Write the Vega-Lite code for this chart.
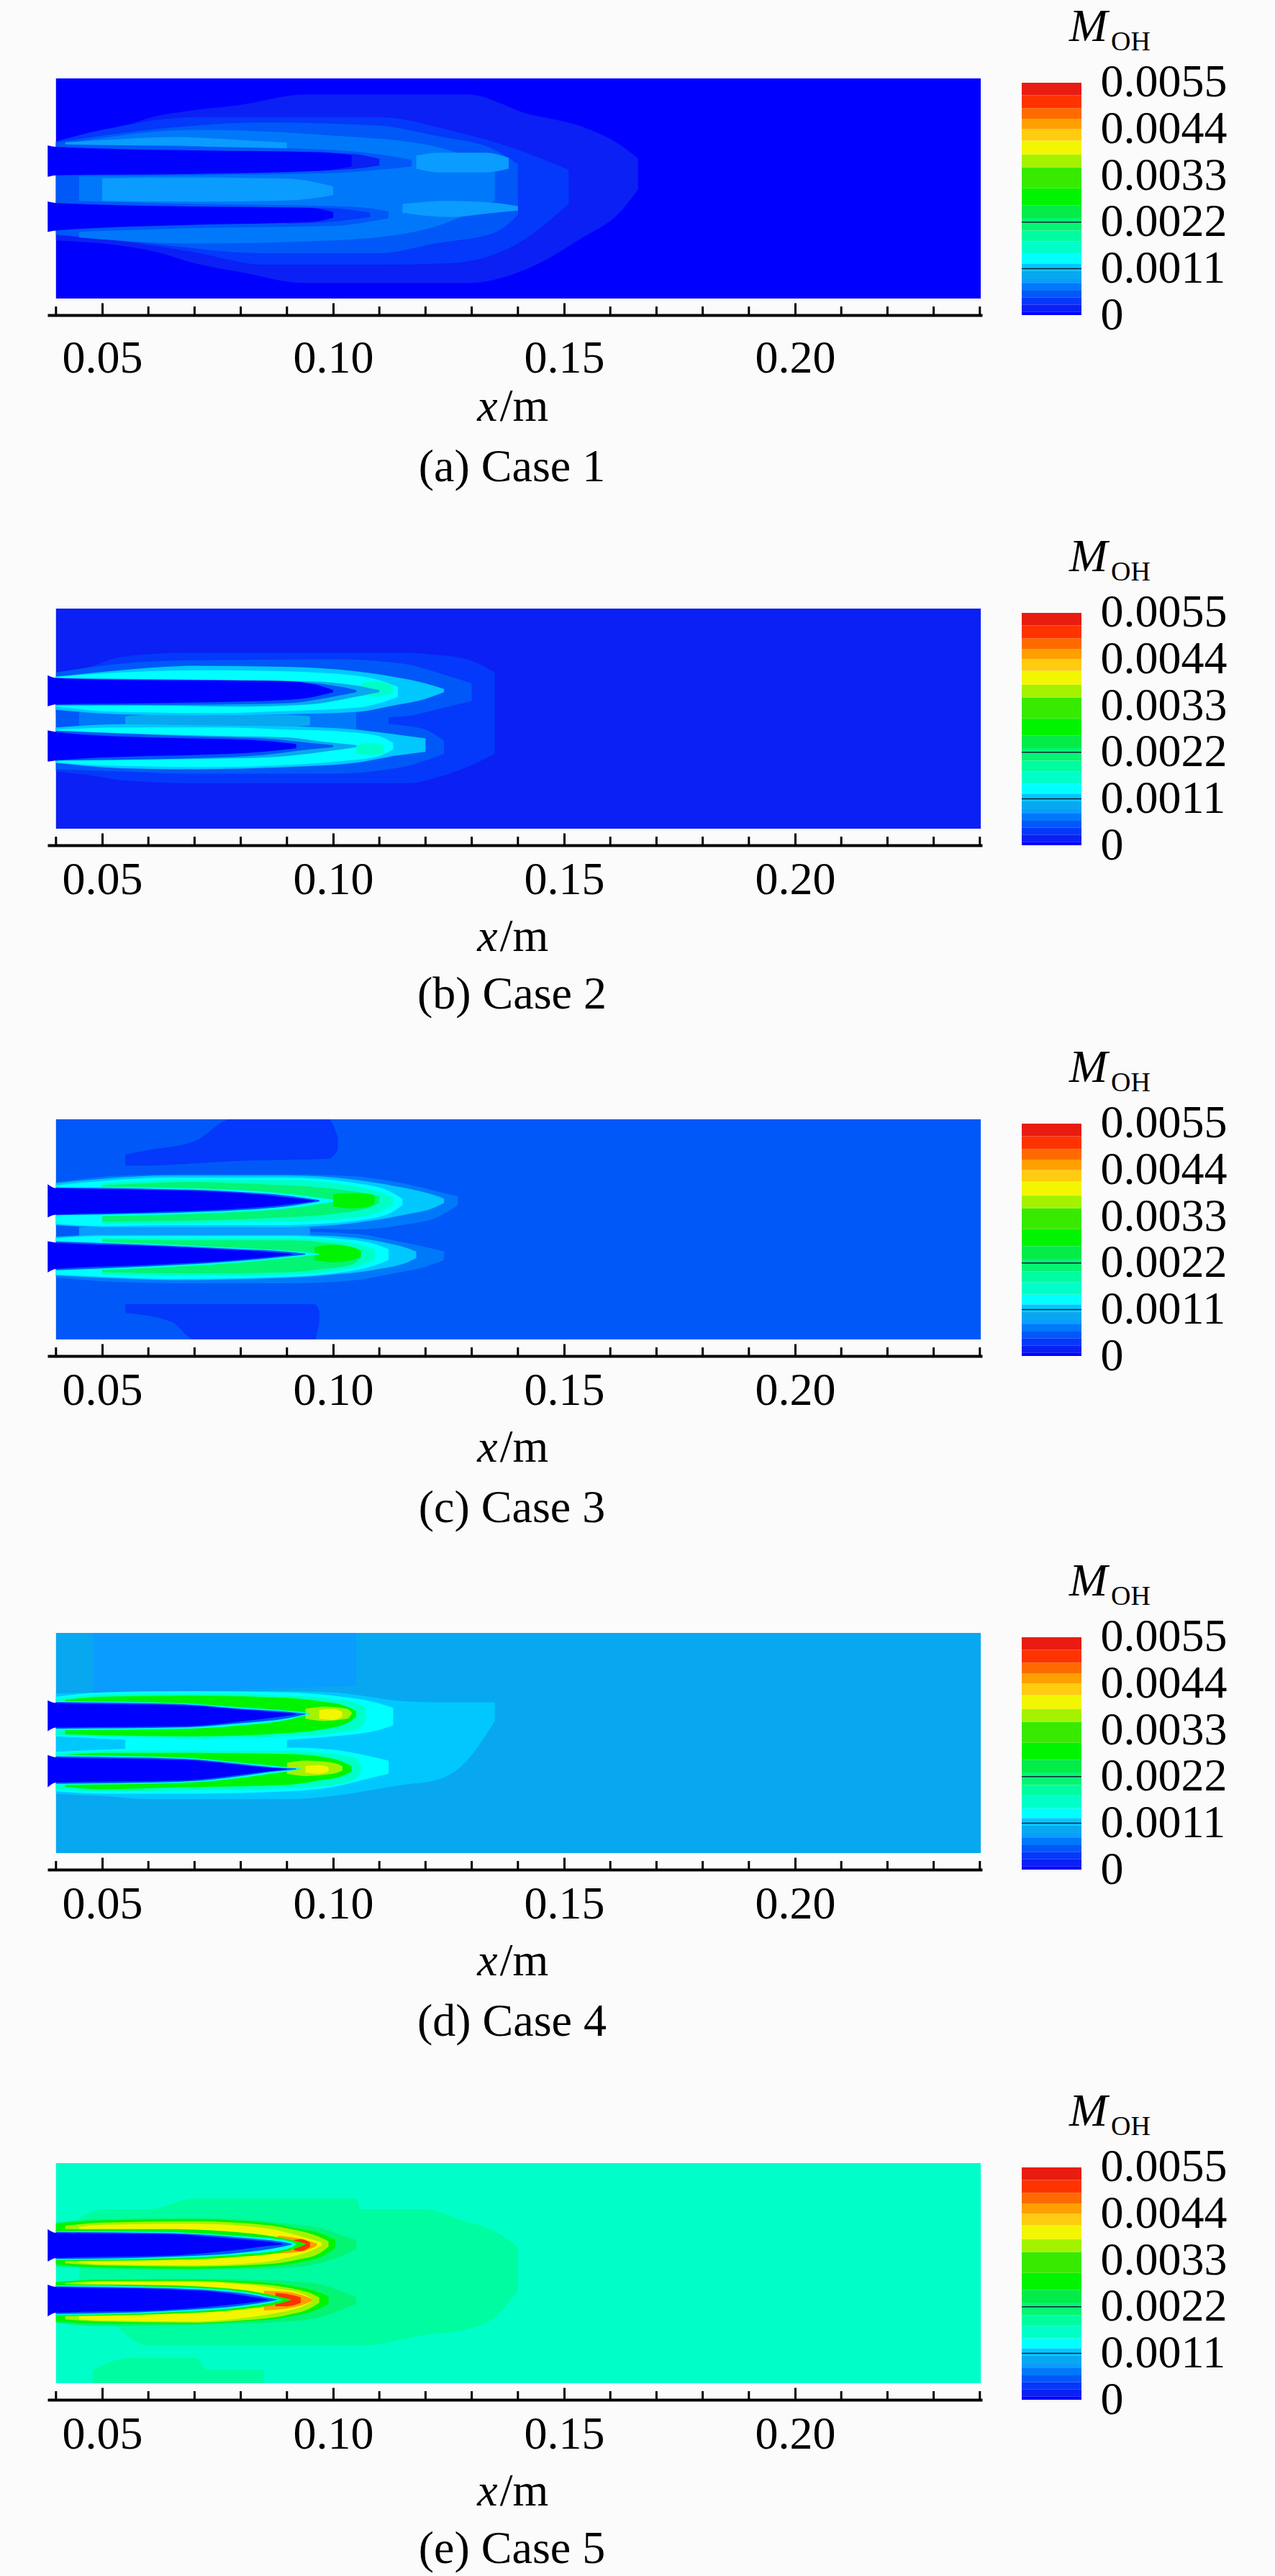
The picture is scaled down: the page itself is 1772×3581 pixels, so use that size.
{
"$schema":"https://vega.github.io/schema/vega-lite/v6.json",
"background":"#fbfbfb",
"padding":{"left":66,"top":5,"right":67,"bottom":40},
"config":{"view":{"stroke":null},
"axis":{"grid":false,"labelFont":"Liberation Serif","labelFontSize":64,"labelColor":"#000","titleFont":"Liberation Serif","titleFontSize":64,"titleFontWeight":"normal","titleColor":"#000","domainColor":"#000","domainWidth":4,"tickColor":"#000","tickWidth":3},
"text":{"font":"Liberation Serif","fontSize":64,"color":"#000","align":"left","baseline":"alphabetic"}},
"datasets":{
"bands":[{"lo":0,"hi":0.00008,"v":0.00004},{"lo":0.00008,"hi":0.00025,"v":0.00016},{"lo":0.00025,"hi":0.00042,"v":0.00033},{"lo":0.00042,"hi":0.00058,"v":0.0005},{"lo":0.00058,"hi":0.00075,"v":0.00066},{"lo":0.00075,"hi":0.00085,"v":0.0008},{"lo":0.00085,"hi":0.00105,"v":0.00095},{"lo":0.00105,"hi":0.00122,"v":0.00113},{"lo":0.00122,"hi":0.00145,"v":0.00133},{"lo":0.00145,"hi":0.00175,"v":0.0016},{"lo":0.00175,"hi":0.002,"v":0.00187},{"lo":0.002,"hi":0.0023,"v":0.00215},{"lo":0.0023,"hi":0.0026,"v":0.00245},{"lo":0.0026,"hi":0.003,"v":0.0028},{"lo":0.003,"hi":0.0035,"v":0.00325},{"lo":0.0035,"hi":0.0038,"v":0.00365},{"lo":0.0038,"hi":0.00413,"v":0.004},{"lo":0.00413,"hi":0.0044,"v":0.00426},{"lo":0.0044,"hi":0.00465,"v":0.00452},{"lo":0.00465,"hi":0.0049,"v":0.00477},{"lo":0.0049,"hi":0.0052,"v":0.00505},{"lo":0.0052,"hi":0.0055,"v":0.00535}],
"minor":[{"x":0.04},{"x":0.06},{"x":0.07},{"x":0.08},{"x":0.09},{"x":0.11},{"x":0.12},{"x":0.13},{"x":0.14},{"x":0.16},{"x":0.17},{"x":0.18},{"x":0.19},{"x":0.21},{"x":0.22},{"x":0.23},{"x":0.24}],
"marks":[{"m":0.0011},{"m":0.0022}],
"a":[
{"g":"bg","v":0.00004,"x":0.04,"y":0,"y2":100},{"g":"bg","v":0.00004,"x":0.2402,"y":0,"y2":100},
{"g":"o1","v":0.00016,"x":0.04,"y":26.4,"y2":71.4},{"g":"o1","v":0.00016,"x":0.05,"y":25,"y2":75},{"g":"o1","v":0.00016,"x":0.062,"y":21,"y2":83},{"g":"o1","v":0.00016,"x":0.07,"y":16,"y2":85.6},{"g":"o1","v":0.00016,"x":0.08,"y":12,"y2":88},{"g":"o1","v":0.00016,"x":0.094,"y":7,"y2":92.7},{"g":"o1","v":0.00016,"x":0.129,"y":7,"y2":92.7},{"g":"o1","v":0.00016,"x":0.142,"y":13.5,"y2":84},{"g":"o1","v":0.00016,"x":0.154,"y":27.7,"y2":78},{"g":"o1","v":0.00016,"x":0.162,"y":39,"y2":70},{"g":"o1","v":0.00016,"x":0.166,"y":49.5,"y2":63.7},
{"g":"o2","v":0.00033,"x":0.04,"y":31.5,"y2":71.4},{"g":"o2","v":0.00033,"x":0.05,"y":27.7,"y2":76.6},{"g":"o2","v":0.00033,"x":0.07,"y":21,"y2":82.4},{"g":"o2","v":0.00033,"x":0.085,"y":15.4,"y2":82.4},{"g":"o2","v":0.00033,"x":0.11,"y":15.4,"y2":82.4},{"g":"o2","v":0.00033,"x":0.125,"y":16,"y2":76.6},{"g":"o2","v":0.00033,"x":0.14,"y":25,"y2":67.6},{"g":"o2","v":0.00033,"x":0.151,"y":43,"y2":58.5},
{"g":"o3","v":0.0005,"x":0.04,"y":29,"y2":70.8},{"g":"o3","v":0.0005,"x":0.06,"y":25,"y2":76.6},{"g":"o3","v":0.0005,"x":0.085,"y":20.6,"y2":80},{"g":"o3","v":0.0005,"x":0.11,"y":20.6,"y2":78.5},{"g":"o3","v":0.0005,"x":0.122,"y":25,"y2":74},{"g":"o3","v":0.0005,"x":0.135,"y":30,"y2":67.6},{"g":"o3","v":0.0005,"x":0.14,"y":38,"y2":61},
{"g":"o4","v":0.00066,"x":0.045,"y":27.7,"y2":71.4},{"g":"o4","v":0.00066,"x":0.07,"y":25,"y2":76.6},{"g":"o4","v":0.00066,"x":0.1,"y":26.4,"y2":74},{"g":"o4","v":0.00066,"x":0.12,"y":31.5,"y2":70},{"g":"o4","v":0.00066,"x":0.135,"y":44.4,"y2":60},
{"g":"mid","v":0.0008,"x":0.05,"y":44.4,"y2":54.7},{"g":"mid","v":0.0008,"x":0.07,"y":44,"y2":55},{"g":"mid","v":0.0008,"x":0.09,"y":44.5,"y2":54.5},{"g":"mid","v":0.0008,"x":0.1,"y":47,"y2":51},
{"g":"rid","v":0.0008,"x":0.042,"y":70,"y2":71},{"g":"rid","v":0.0008,"x":0.05,"y":69.5,"y2":72},{"g":"rid","v":0.0008,"x":0.065,"y":69.5,"y2":73.4},{"g":"rid","v":0.0008,"x":0.08,"y":68.2,"y2":72},{"g":"rid","v":0.0008,"x":0.09,"y":67.5,"y2":70.8},
{"g":"h1","v":0.0008,"x":0.118,"y":59,"y2":65},{"g":"h1","v":0.0008,"x":0.123,"y":57.3,"y2":66.3},{"g":"h1","v":0.0008,"x":0.133,"y":57.3,"y2":66.3},{"g":"h1","v":0.0008,"x":0.138,"y":59,"y2":64},
{"g":"h2","v":0.0008,"x":0.115,"y":39,"y2":43},{"g":"h2","v":0.0008,"x":0.125,"y":37,"y2":44.4},{"g":"h2","v":0.0008,"x":0.135,"y":39,"y2":43.5},{"g":"h2","v":0.0008,"x":0.14,"y":40,"y2":42},
{"g":"r1","v":0.0005,"x":0.04,"y":55.5,"y2":70},{"g":"r1","v":0.0005,"x":0.07,"y":56,"y2":69},{"g":"r1","v":0.0005,"x":0.1,"y":57,"y2":67.5},{"g":"r1","v":0.0005,"x":0.11,"y":58.5,"y2":65.5},{"g":"r1","v":0.0005,"x":0.117,"y":60,"y2":63},
{"g":"r2","v":0.0005,"x":0.04,"y":30,"y2":44.5},{"g":"r2","v":0.0005,"x":0.07,"y":32,"y2":43},{"g":"r2","v":0.0005,"x":0.1,"y":33,"y2":42},{"g":"r2","v":0.0005,"x":0.108,"y":35,"y2":41},{"g":"r2","v":0.0005,"x":0.112,"y":36.5,"y2":39.5},
{"g":"t1","v":0.00016,"x":0.095,"y":58,"y2":66.5},{"g":"t1","v":0.00016,"x":0.105,"y":59,"y2":65.5},{"g":"t1","v":0.00016,"x":0.11,"y":60.5,"y2":63.5},
{"g":"t2","v":0.00033,"x":0.09,"y":34,"y2":41.5},{"g":"t2","v":0.00033,"x":0.1,"y":35,"y2":41},{"g":"t2","v":0.00033,"x":0.108,"y":37,"y2":39},
{"g":"c1","v":0.00004,"x":0.0382,"y":55.3,"y2":69.5},{"g":"c1","v":0.00004,"x":0.04,"y":56,"y2":68.9},{"g":"c1","v":0.00004,"x":0.07,"y":56.6,"y2":67.3},{"g":"c1","v":0.00004,"x":0.097,"y":58,"y2":66.5},{"g":"c1","v":0.00004,"x":0.104,"y":60,"y2":65},
{"g":"c2","v":0.00004,"x":0.0382,"y":30.2,"y2":44.1},{"g":"c2","v":0.00004,"x":0.04,"y":30.9,"y2":43.4},{"g":"c2","v":0.00004,"x":0.07,"y":33.5,"y2":41.8},{"g":"c2","v":0.00004,"x":0.095,"y":34.7,"y2":41.2},{"g":"c2","v":0.00004,"x":0.1,"y":36.7,"y2":39.3}
],
"b":[
{"g":"bg","v":0.00016,"x":0.04,"y":0,"y2":100},{"g":"bg","v":0.00016,"x":0.2402,"y":0,"y2":100},
{"g":"h","v":0.00033,"x":0.04,"y":26,"y2":69},{"g":"h","v":0.00033,"x":0.048,"y":24,"y2":74},{"g":"h","v":0.00033,"x":0.054,"y":22,"y2":78},{"g":"h","v":0.00033,"x":0.069,"y":20.7,"y2":80},{"g":"h","v":0.00033,"x":0.116,"y":20.7,"y2":80},{"g":"h","v":0.00033,"x":0.122,"y":23,"y2":79},{"g":"h","v":0.00033,"x":0.129,"y":28,"y2":77},{"g":"h","v":0.00033,"x":0.135,"y":34,"y2":71},
{"g":"m3","v":0.0005,"x":0.04,"y":45,"y2":56},{"g":"m3","v":0.0005,"x":0.105,"y":45,"y2":56},{"g":"m3","v":0.0005,"x":0.112,"y":47,"y2":54},
{"g":"u3","v":0.0005,"x":0.04,"y":52,"y2":71},{"g":"u3","v":0.0005,"x":0.054,"y":50,"y2":75},{"g":"u3","v":0.0005,"x":0.069,"y":50,"y2":76.5},{"g":"u3","v":0.0005,"x":0.1,"y":50,"y2":77},{"g":"u3","v":0.0005,"x":0.115,"y":51,"y2":75},{"g":"u3","v":0.0005,"x":0.124,"y":55,"y2":70},{"g":"u3","v":0.0005,"x":0.13,"y":58,"y2":66},
{"g":"d3","v":0.0005,"x":0.04,"y":27,"y2":46},{"g":"d3","v":0.0005,"x":0.054,"y":26,"y2":48},{"g":"d3","v":0.0005,"x":0.069,"y":25,"y2":49},{"g":"d3","v":0.0005,"x":0.1,"y":25,"y2":49},{"g":"d3","v":0.0005,"x":0.115,"y":28,"y2":47},{"g":"d3","v":0.0005,"x":0.12,"y":31,"y2":45},{"g":"d3","v":0.0005,"x":0.124,"y":34,"y2":40},
{"g":"m4","v":0.00066,"x":0.045,"y":45,"y2":53},{"g":"m4","v":0.00066,"x":0.105,"y":45,"y2":53},
{"g":"m5","v":0.00095,"x":0.055,"y":47,"y2":51},{"g":"m5","v":0.00095,"x":0.06,"y":46.3,"y2":51.7},{"g":"m5","v":0.00095,"x":0.09,"y":46.3,"y2":51.7},{"g":"m5","v":0.00095,"x":0.095,"y":47,"y2":51},
{"g":"u6","v":0.00113,"x":0.04,"y":54,"y2":69},{"g":"u6","v":0.00113,"x":0.054,"y":52,"y2":72},{"g":"u6","v":0.00113,"x":0.07,"y":51.5,"y2":74},{"g":"u6","v":0.00113,"x":0.09,"y":52,"y2":73.5},{"g":"u6","v":0.00113,"x":0.105,"y":53,"y2":71.5},{"g":"u6","v":0.00113,"x":0.113,"y":56,"y2":69},{"g":"u6","v":0.00113,"x":0.12,"y":59,"y2":66},{"g":"u6","v":0.00113,"x":0.124,"y":62,"y2":63.5},
{"g":"u7","v":0.00133,"x":0.04,"y":55.5,"y2":69},{"g":"u7","v":0.00133,"x":0.054,"y":53,"y2":71},{"g":"u7","v":0.00133,"x":0.075,"y":52.5,"y2":72},{"g":"u7","v":0.00133,"x":0.09,"y":53.5,"y2":71.5},{"g":"u7","v":0.00133,"x":0.105,"y":55,"y2":69.5},{"g":"u7","v":0.00133,"x":0.11,"y":57,"y2":67.5},{"g":"u7","v":0.00133,"x":0.114,"y":60,"y2":64.5},
{"g":"u8","v":0.0016,"x":0.106,"y":61,"y2":66},{"g":"u8","v":0.0016,"x":0.109,"y":60,"y2":67},{"g":"u8","v":0.0016,"x":0.112,"y":61,"y2":66},{"g":"u8","v":0.0016,"x":0.113,"y":62,"y2":65},
{"g":"uc5","v":0.00095,"x":0.04,"y":56,"y2":68.5},{"g":"uc5","v":0.00095,"x":0.06,"y":56,"y2":68},{"g":"uc5","v":0.00095,"x":0.08,"y":55.5,"y2":67.5},{"g":"uc5","v":0.00095,"x":0.095,"y":56.5,"y2":67},{"g":"uc5","v":0.00095,"x":0.105,"y":60,"y2":65},{"g":"uc5","v":0.00095,"x":0.11,"y":62,"y2":63},
{"g":"uc3","v":0.0005,"x":0.04,"y":56.2,"y2":68.2},{"g":"uc3","v":0.0005,"x":0.07,"y":56.3,"y2":67.6},{"g":"uc3","v":0.0005,"x":0.09,"y":57,"y2":67},{"g":"uc3","v":0.0005,"x":0.1,"y":60,"y2":65},{"g":"uc3","v":0.0005,"x":0.105,"y":62,"y2":63},
{"g":"uc0","v":0.00004,"x":0.0382,"y":55.6,"y2":69.7},{"g":"uc0","v":0.00004,"x":0.04,"y":56.5,"y2":68.5},{"g":"uc0","v":0.00004,"x":0.06,"y":57,"y2":67.5},{"g":"uc0","v":0.00004,"x":0.08,"y":57.8,"y2":67.3},{"g":"uc0","v":0.00004,"x":0.09,"y":58.5,"y2":67},{"g":"uc0","v":0.00004,"x":0.096,"y":60,"y2":65.5},{"g":"uc0","v":0.00004,"x":0.1,"y":62,"y2":63},
{"g":"d6","v":0.00113,"x":0.04,"y":30,"y2":46},{"g":"d6","v":0.00113,"x":0.054,"y":27.5,"y2":47.5},{"g":"d6","v":0.00113,"x":0.07,"y":27,"y2":47},{"g":"d6","v":0.00113,"x":0.09,"y":28,"y2":46.5},{"g":"d6","v":0.00113,"x":0.105,"y":30,"y2":45},{"g":"d6","v":0.00113,"x":0.113,"y":33,"y2":43},{"g":"d6","v":0.00113,"x":0.12,"y":35,"y2":41},
{"g":"d7","v":0.00133,"x":0.04,"y":30,"y2":45},{"g":"d7","v":0.00133,"x":0.054,"y":28.5,"y2":46},{"g":"d7","v":0.00133,"x":0.075,"y":28,"y2":46},{"g":"d7","v":0.00133,"x":0.09,"y":29,"y2":45},{"g":"d7","v":0.00133,"x":0.103,"y":31,"y2":44},{"g":"d7","v":0.00133,"x":0.11,"y":33,"y2":42},{"g":"d7","v":0.00133,"x":0.113,"y":36,"y2":39},
{"g":"d8","v":0.0016,"x":0.105,"y":34,"y2":38},{"g":"d8","v":0.0016,"x":0.108,"y":33.5,"y2":39},{"g":"d8","v":0.0016,"x":0.111,"y":34,"y2":38},
{"g":"dc5","v":0.00095,"x":0.04,"y":31,"y2":44.5},{"g":"dc5","v":0.00095,"x":0.06,"y":31.5,"y2":43},{"g":"dc5","v":0.00095,"x":0.08,"y":32,"y2":42},{"g":"dc5","v":0.00095,"x":0.09,"y":33,"y2":41.5},{"g":"dc5","v":0.00095,"x":0.098,"y":35,"y2":39.5},{"g":"dc5","v":0.00095,"x":0.105,"y":37,"y2":38},
{"g":"dc3","v":0.0005,"x":0.04,"y":31,"y2":44.5},{"g":"dc3","v":0.0005,"x":0.07,"y":32,"y2":42},{"g":"dc3","v":0.0005,"x":0.085,"y":33.5,"y2":41},{"g":"dc3","v":0.0005,"x":0.095,"y":36,"y2":39},{"g":"dc3","v":0.0005,"x":0.1,"y":37,"y2":38},
{"g":"dc0","v":0.00004,"x":0.0382,"y":30.5,"y2":44.7},{"g":"dc0","v":0.00004,"x":0.04,"y":31,"y2":44},{"g":"dc0","v":0.00004,"x":0.06,"y":33,"y2":41.5},{"g":"dc0","v":0.00004,"x":0.07,"y":33.5,"y2":41},{"g":"dc0","v":0.00004,"x":0.085,"y":35,"y2":40},{"g":"dc0","v":0.00004,"x":0.092,"y":36.5,"y2":38.5}
],
"c":[
{"g":"bg","v":0.0005,"x":0.04,"y":0,"y2":100},{"g":"bg","v":0.0005,"x":0.2402,"y":0,"y2":100},
{"g":"tz","v":0.00033,"x":0.055,"y":79,"y2":84},{"g":"tz","v":0.00033,"x":0.06,"y":79,"y2":86},{"g":"tz","v":0.00033,"x":0.07,"y":80,"y2":90},{"g":"tz","v":0.00033,"x":0.078,"y":81,"y2":100},{"g":"tz","v":0.00033,"x":0.099,"y":82,"y2":100},{"g":"tz","v":0.00033,"x":0.101,"y":86,"y2":92},
{"g":"bz","v":0.00033,"x":0.055,"y":12,"y2":16},{"g":"bz","v":0.00033,"x":0.065,"y":8,"y2":16},{"g":"bz","v":0.00033,"x":0.07,"y":0,"y2":16},{"g":"bz","v":0.00033,"x":0.096,"y":0,"y2":16},{"g":"bz","v":0.00033,"x":0.097,"y":8,"y2":13},
{"g":"u4","v":0.00066,"x":0.04,"y":52,"y2":71.5},{"g":"u4","v":0.00066,"x":0.055,"y":51,"y2":74.5},{"g":"u4","v":0.00066,"x":0.07,"y":50.5,"y2":75},{"g":"u4","v":0.00066,"x":0.09,"y":50.5,"y2":75},{"g":"u4","v":0.00066,"x":0.105,"y":50,"y2":74},{"g":"u4","v":0.00066,"x":0.115,"y":52,"y2":71},{"g":"u4","v":0.00066,"x":0.123,"y":56,"y2":67},{"g":"u4","v":0.00066,"x":0.127,"y":61,"y2":65},
{"g":"d4","v":0.00066,"x":0.04,"y":28,"y2":47},{"g":"d4","v":0.00066,"x":0.055,"y":26,"y2":48},{"g":"d4","v":0.00066,"x":0.07,"y":25.5,"y2":49},{"g":"d4","v":0.00066,"x":0.09,"y":25.5,"y2":49},{"g":"d4","v":0.00066,"x":0.105,"y":27,"y2":48},{"g":"d4","v":0.00066,"x":0.113,"y":30,"y2":45},{"g":"d4","v":0.00066,"x":0.12,"y":33,"y2":42},{"g":"d4","v":0.00066,"x":0.124,"y":36,"y2":40},
{"g":"m4","v":0.0008,"x":0.045,"y":47,"y2":51},{"g":"m4","v":0.0008,"x":0.095,"y":47,"y2":51},
{"g":"u6","v":0.00113,"x":0.04,"y":52,"y2":71},{"g":"u6","v":0.00113,"x":0.05,"y":51,"y2":73},{"g":"u6","v":0.00113,"x":0.065,"y":51,"y2":74.5},{"g":"u6","v":0.00113,"x":0.09,"y":51,"y2":74.5},{"g":"u6","v":0.00113,"x":0.105,"y":53,"y2":72.5},{"g":"u6","v":0.00113,"x":0.115,"y":56.5,"y2":69},{"g":"u6","v":0.00113,"x":0.122,"y":60,"y2":65.5},{"g":"u6","v":0.00113,"x":0.124,"y":62,"y2":64},
{"g":"u7","v":0.00133,"x":0.04,"y":52.5,"y2":70},{"g":"u7","v":0.00133,"x":0.05,"y":51.5,"y2":72},{"g":"u7","v":0.00133,"x":0.065,"y":52,"y2":73.5},{"g":"u7","v":0.00133,"x":0.09,"y":52,"y2":73.5},{"g":"u7","v":0.00133,"x":0.105,"y":54,"y2":71},{"g":"u7","v":0.00133,"x":0.112,"y":57,"y2":67.5},{"g":"u7","v":0.00133,"x":0.115,"y":61,"y2":64},
{"g":"u8","v":0.0016,"x":0.05,"y":52.5,"y2":71},{"g":"u8","v":0.0016,"x":0.07,"y":53,"y2":72.5},{"g":"u8","v":0.0016,"x":0.09,"y":53.5,"y2":72.5},{"g":"u8","v":0.0016,"x":0.105,"y":55.5,"y2":69.5},{"g":"u8","v":0.0016,"x":0.11,"y":58,"y2":67},{"g":"u8","v":0.0016,"x":0.113,"y":61,"y2":64.5},
{"g":"u10","v":0.00215,"x":0.05,"y":53.5,"y2":70},{"g":"u10","v":0.00215,"x":0.07,"y":54,"y2":71.5},{"g":"u10","v":0.00215,"x":0.085,"y":55,"y2":70.5},{"g":"u10","v":0.00215,"x":0.1,"y":57,"y2":68.5},{"g":"u10","v":0.00215,"x":0.108,"y":60,"y2":66},{"g":"u10","v":0.00215,"x":0.11,"y":62,"y2":65},
{"g":"u12","v":0.0028,"x":0.1,"y":60.5,"y2":66},{"g":"u12","v":0.0028,"x":0.104,"y":59.5,"y2":66.5},{"g":"u12","v":0.0028,"x":0.108,"y":60.5,"y2":66},{"g":"u12","v":0.0028,"x":0.109,"y":62,"y2":65},
{"g":"uc7","v":0.00133,"x":0.04,"y":56,"y2":69.5},{"g":"uc7","v":0.00133,"x":0.06,"y":56.5,"y2":69},{"g":"uc7","v":0.00133,"x":0.08,"y":58,"y2":67.8},{"g":"uc7","v":0.00133,"x":0.09,"y":59.5,"y2":66.2},{"g":"uc7","v":0.00133,"x":0.1,"y":62.5,"y2":63.5},
{"g":"uc3","v":0.0005,"x":0.04,"y":56.5,"y2":69},{"g":"uc3","v":0.0005,"x":0.06,"y":57.3,"y2":68.5},{"g":"uc3","v":0.0005,"x":0.08,"y":58.8,"y2":67},{"g":"uc3","v":0.0005,"x":0.09,"y":60.5,"y2":65.4},{"g":"uc3","v":0.0005,"x":0.097,"y":62.7,"y2":63.3},
{"g":"uc0","v":0.00004,"x":0.0382,"y":55.4,"y2":70.5},{"g":"uc0","v":0.00004,"x":0.04,"y":56.7,"y2":68.7},{"g":"uc0","v":0.00004,"x":0.06,"y":57.8,"y2":68},{"g":"uc0","v":0.00004,"x":0.08,"y":59.5,"y2":66.5},{"g":"uc0","v":0.00004,"x":0.088,"y":60.8,"y2":65},{"g":"uc0","v":0.00004,"x":0.096,"y":62.8,"y2":63.2},
{"g":"d6","v":0.00113,"x":0.04,"y":29,"y2":46.5},{"g":"d6","v":0.00113,"x":0.05,"y":28,"y2":47.5},{"g":"d6","v":0.00113,"x":0.065,"y":27,"y2":47.5},{"g":"d6","v":0.00113,"x":0.09,"y":28,"y2":47.5},{"g":"d6","v":0.00113,"x":0.1,"y":29.5,"y2":47},{"g":"d6","v":0.00113,"x":0.11,"y":32,"y2":44.5},{"g":"d6","v":0.00113,"x":0.116,"y":35,"y2":41.5},{"g":"d6","v":0.00113,"x":0.118,"y":37,"y2":40},
{"g":"d7","v":0.00133,"x":0.04,"y":29.5,"y2":46},{"g":"d7","v":0.00133,"x":0.05,"y":28.5,"y2":47},{"g":"d7","v":0.00133,"x":0.065,"y":27.5,"y2":47},{"g":"d7","v":0.00133,"x":0.09,"y":28.5,"y2":47},{"g":"d7","v":0.00133,"x":0.1,"y":30,"y2":46},{"g":"d7","v":0.00133,"x":0.108,"y":33,"y2":44},{"g":"d7","v":0.00133,"x":0.112,"y":36,"y2":41},
{"g":"d8","v":0.0016,"x":0.05,"y":29.5,"y2":46},{"g":"d8","v":0.0016,"x":0.07,"y":29,"y2":46},{"g":"d8","v":0.0016,"x":0.09,"y":29.5,"y2":46},{"g":"d8","v":0.0016,"x":0.1,"y":31,"y2":45},{"g":"d8","v":0.0016,"x":0.105,"y":33,"y2":43.5},{"g":"d8","v":0.0016,"x":0.109,"y":36,"y2":41},
{"g":"d10","v":0.00215,"x":0.05,"y":30.5,"y2":45.5},{"g":"d10","v":0.00215,"x":0.07,"y":30,"y2":45},{"g":"d10","v":0.00215,"x":0.09,"y":30.5,"y2":45},{"g":"d10","v":0.00215,"x":0.098,"y":32,"y2":44},{"g":"d10","v":0.00215,"x":0.104,"y":34,"y2":42},{"g":"d10","v":0.00215,"x":0.106,"y":37,"y2":40},
{"g":"d12","v":0.0028,"x":0.096,"y":36,"y2":42},{"g":"d12","v":0.0028,"x":0.1,"y":35,"y2":43},{"g":"d12","v":0.0028,"x":0.104,"y":36,"y2":42},{"g":"d12","v":0.0028,"x":0.106,"y":37.5,"y2":40.5},
{"g":"dc7","v":0.00133,"x":0.04,"y":31,"y2":45},{"g":"dc7","v":0.00133,"x":0.06,"y":32.5,"y2":43.5},{"g":"dc7","v":0.00133,"x":0.08,"y":35,"y2":41.5},{"g":"dc7","v":0.00133,"x":0.09,"y":37,"y2":40.3},{"g":"dc7","v":0.00133,"x":0.097,"y":38.5,"y2":39},
{"g":"dc3","v":0.0005,"x":0.04,"y":31.5,"y2":44.5},{"g":"dc3","v":0.0005,"x":0.06,"y":33.2,"y2":43},{"g":"dc3","v":0.0005,"x":0.08,"y":35.7,"y2":41},{"g":"dc3","v":0.0005,"x":0.09,"y":37.7,"y2":39.9},{"g":"dc3","v":0.0005,"x":0.094,"y":38.6,"y2":39},
{"g":"dc0","v":0.00004,"x":0.0382,"y":30.4,"y2":44.6},{"g":"dc0","v":0.00004,"x":0.04,"y":32,"y2":44},{"g":"dc0","v":0.00004,"x":0.06,"y":33.8,"y2":42.5},{"g":"dc0","v":0.00004,"x":0.08,"y":36.3,"y2":40.5},{"g":"dc0","v":0.00004,"x":0.088,"y":37.8,"y2":39.5},{"g":"dc0","v":0.00004,"x":0.091,"y":38.5,"y2":39}
],
"d":[
{"g":"bg","v":0.00095,"x":0.04,"y":0,"y2":100},{"g":"bg","v":0.00095,"x":0.2402,"y":0,"y2":100},
{"g":"tz","v":0.0008,"x":0.048,"y":72,"y2":100},{"g":"tz","v":0.0008,"x":0.105,"y":76,"y2":100},
{"g":"w6","v":0.00113,"x":0.04,"y":27,"y2":72.5},{"g":"w6","v":0.00113,"x":0.05,"y":26,"y2":73},{"g":"w6","v":0.00113,"x":0.06,"y":24.5,"y2":73.5},{"g":"w6","v":0.00113,"x":0.09,"y":24.5,"y2":73.5},{"g":"w6","v":0.00113,"x":0.1,"y":26,"y2":73},{"g":"w6","v":0.00113,"x":0.115,"y":31,"y2":69},{"g":"w6","v":0.00113,"x":0.122,"y":33,"y2":68.5},{"g":"w6","v":0.00113,"x":0.128,"y":40,"y2":68.5},{"g":"w6","v":0.00113,"x":0.135,"y":60,"y2":68.5},
{"g":"u7","v":0.00133,"x":0.04,"y":53,"y2":71},{"g":"u7","v":0.00133,"x":0.05,"y":52,"y2":73},{"g":"u7","v":0.00133,"x":0.07,"y":50.5,"y2":73.5},{"g":"u7","v":0.00133,"x":0.09,"y":51.5,"y2":73},{"g":"u7","v":0.00133,"x":0.1,"y":53,"y2":71.5},{"g":"u7","v":0.00133,"x":0.11,"y":56,"y2":68},{"g":"u7","v":0.00133,"x":0.113,"y":58,"y2":66},
{"g":"m7","v":0.00133,"x":0.055,"y":47,"y2":53},{"g":"m7","v":0.00133,"x":0.08,"y":47,"y2":53},{"g":"m7","v":0.00133,"x":0.09,"y":48,"y2":52},
{"g":"d7","v":0.00133,"x":0.04,"y":28,"y2":46},{"g":"d7","v":0.00133,"x":0.05,"y":27,"y2":47},{"g":"d7","v":0.00133,"x":0.07,"y":27,"y2":48},{"g":"d7","v":0.00133,"x":0.09,"y":28,"y2":48},{"g":"d7","v":0.00133,"x":0.1,"y":30,"y2":47},{"g":"d7","v":0.00133,"x":0.108,"y":34,"y2":44},{"g":"d7","v":0.00133,"x":0.112,"y":36,"y2":42},
{"g":"u8","v":0.0016,"x":0.04,"y":53.5,"y2":70},{"g":"u8","v":0.0016,"x":0.05,"y":53,"y2":72},{"g":"u8","v":0.0016,"x":0.07,"y":52,"y2":72.5},{"g":"u8","v":0.0016,"x":0.09,"y":53,"y2":71.5},{"g":"u8","v":0.0016,"x":0.1,"y":54.5,"y2":70},{"g":"u8","v":0.0016,"x":0.105,"y":56,"y2":68},{"g":"u8","v":0.0016,"x":0.107,"y":60,"y2":66},
{"g":"d8","v":0.0016,"x":0.04,"y":29,"y2":45},{"g":"d8","v":0.0016,"x":0.05,"y":28,"y2":46.5},{"g":"d8","v":0.0016,"x":0.07,"y":28.5,"y2":46.5},{"g":"d8","v":0.0016,"x":0.09,"y":29.5,"y2":46.5},{"g":"d8","v":0.0016,"x":0.1,"y":31,"y2":45},{"g":"d8","v":0.0016,"x":0.105,"y":34,"y2":43},{"g":"d8","v":0.0016,"x":0.106,"y":37,"y2":40},
{"g":"u12","v":0.0028,"x":0.042,"y":54,"y2":69.5},{"g":"u12","v":0.0028,"x":0.05,"y":53.5,"y2":71},{"g":"u12","v":0.0028,"x":0.07,"y":53,"y2":71.5},{"g":"u12","v":0.0028,"x":0.09,"y":54.5,"y2":70.5},{"g":"u12","v":0.0028,"x":0.097,"y":56,"y2":69},{"g":"u12","v":0.0028,"x":0.103,"y":59,"y2":66.5},{"g":"u12","v":0.0028,"x":0.105,"y":62,"y2":64.5},
{"g":"d12","v":0.0028,"x":0.042,"y":30,"y2":44.5},{"g":"d12","v":0.0028,"x":0.05,"y":29,"y2":45.5},{"g":"d12","v":0.0028,"x":0.07,"y":30,"y2":45.5},{"g":"d12","v":0.0028,"x":0.09,"y":31,"y2":45},{"g":"d12","v":0.0028,"x":0.097,"y":33,"y2":44},{"g":"d12","v":0.0028,"x":0.102,"y":35,"y2":41.5},{"g":"d12","v":0.0028,"x":0.104,"y":37,"y2":39.5},
{"g":"u14","v":0.00365,"x":0.094,"y":61,"y2":65.5},{"g":"u14","v":0.00365,"x":0.098,"y":60,"y2":66.5},{"g":"u14","v":0.00365,"x":0.103,"y":61,"y2":65.5},{"g":"u14","v":0.00365,"x":0.104,"y":63,"y2":64},
{"g":"d14","v":0.00365,"x":0.09,"y":36,"y2":41},{"g":"d14","v":0.00365,"x":0.094,"y":35,"y2":42},{"g":"d14","v":0.00365,"x":0.1,"y":36,"y2":41},{"g":"d14","v":0.00365,"x":0.102,"y":37.5,"y2":39.5},
{"g":"u15","v":0.004,"x":0.097,"y":61,"y2":65},{"g":"u15","v":0.004,"x":0.1,"y":60.5,"y2":65.5},{"g":"u15","v":0.004,"x":0.102,"y":62,"y2":64},
{"g":"d15","v":0.004,"x":0.094,"y":36.5,"y2":39.5},{"g":"d15","v":0.004,"x":0.097,"y":36,"y2":40},{"g":"d15","v":0.004,"x":0.099,"y":37,"y2":39},
{"g":"uc7","v":0.00133,"x":0.04,"y":55.8,"y2":69},{"g":"uc7","v":0.00133,"x":0.068,"y":56.5,"y2":68},{"g":"uc7","v":0.00133,"x":0.08,"y":58,"y2":66.2},{"g":"uc7","v":0.00133,"x":0.09,"y":60.5,"y2":64.7},{"g":"uc7","v":0.00133,"x":0.095,"y":63,"y2":63.6},
{"g":"uc3","v":0.0005,"x":0.04,"y":56.5,"y2":68.6},{"g":"uc3","v":0.0005,"x":0.068,"y":57.1,"y2":67.6},{"g":"uc3","v":0.0005,"x":0.08,"y":59,"y2":65.6},{"g":"uc3","v":0.0005,"x":0.09,"y":61.2,"y2":64.2},{"g":"uc3","v":0.0005,"x":0.094,"y":63,"y2":63.4},
{"g":"uc0","v":0.00004,"x":0.0382,"y":55.3,"y2":69.4},{"g":"uc0","v":0.00004,"x":0.04,"y":57,"y2":68.2},{"g":"uc0","v":0.00004,"x":0.068,"y":57.6,"y2":67.1},{"g":"uc0","v":0.00004,"x":0.08,"y":59.8,"y2":65.2},{"g":"uc0","v":0.00004,"x":0.088,"y":61.8,"y2":64},{"g":"uc0","v":0.00004,"x":0.092,"y":63,"y2":63.3},
{"g":"dc7","v":0.00133,"x":0.04,"y":31,"y2":44.5},{"g":"dc7","v":0.00133,"x":0.068,"y":32,"y2":43.3},{"g":"dc7","v":0.00133,"x":0.08,"y":34.2,"y2":41},{"g":"dc7","v":0.00133,"x":0.088,"y":36.5,"y2":39.5},{"g":"dc7","v":0.00133,"x":0.093,"y":38,"y2":38.5},
{"g":"dc3","v":0.0005,"x":0.04,"y":31.5,"y2":44},{"g":"dc3","v":0.0005,"x":0.068,"y":32.5,"y2":42.8},{"g":"dc3","v":0.0005,"x":0.08,"y":35,"y2":40.5},{"g":"dc3","v":0.0005,"x":0.087,"y":37,"y2":39},{"g":"dc3","v":0.0005,"x":0.092,"y":38,"y2":38.4},
{"g":"dc0","v":0.00004,"x":0.0382,"y":29.8,"y2":44.5},{"g":"dc0","v":0.00004,"x":0.04,"y":32,"y2":43.5},{"g":"dc0","v":0.00004,"x":0.068,"y":33,"y2":42.3},{"g":"dc0","v":0.00004,"x":0.08,"y":35.6,"y2":40},{"g":"dc0","v":0.00004,"x":0.086,"y":37.2,"y2":38.8},{"g":"dc0","v":0.00004,"x":0.09,"y":38,"y2":38.3}
],
"e":[
{"g":"bg","v":0.0016,"x":0.04,"y":0,"y2":100},{"g":"bg","v":0.0016,"x":0.2402,"y":0,"y2":100},
{"g":"w9","v":0.00187,"x":0.045,"y":33,"y2":75},{"g":"w9","v":0.00187,"x":0.05,"y":30,"y2":79},{"g":"w9","v":0.00187,"x":0.06,"y":17,"y2":79},{"g":"w9","v":0.00187,"x":0.07,"y":17,"y2":84},{"g":"w9","v":0.00187,"x":0.105,"y":17,"y2":84},{"g":"w9","v":0.00187,"x":0.106,"y":17,"y2":79},{"g":"w9","v":0.00187,"x":0.12,"y":22,"y2":79},{"g":"w9","v":0.00187,"x":0.128,"y":24,"y2":74},{"g":"w9","v":0.00187,"x":0.135,"y":30,"y2":69},{"g":"w9","v":0.00187,"x":0.14,"y":42,"y2":62},
{"g":"bz","v":0.00187,"x":0.048,"y":0,"y2":6},{"g":"bz","v":0.00187,"x":0.056,"y":0,"y2":11.5},{"g":"bz","v":0.00187,"x":0.07,"y":0,"y2":11.5},{"g":"bz","v":0.00187,"x":0.073,"y":0,"y2":6},{"g":"bz","v":0.00187,"x":0.085,"y":0,"y2":6},
{"g":"u10","v":0.00215,"x":0.04,"y":53,"y2":73},{"g":"u10","v":0.00215,"x":0.05,"y":52,"y2":74.5},{"g":"u10","v":0.00215,"x":0.07,"y":51.5,"y2":75},{"g":"u10","v":0.00215,"x":0.09,"y":52.5,"y2":72.5},{"g":"u10","v":0.00215,"x":0.098,"y":55,"y2":70},{"g":"u10","v":0.00215,"x":0.102,"y":58,"y2":67},{"g":"u10","v":0.00215,"x":0.105,"y":61,"y2":65},
{"g":"u12","v":0.0028,"x":0.04,"y":54,"y2":72.5},{"g":"u12","v":0.0028,"x":0.05,"y":52.5,"y2":74},{"g":"u12","v":0.0028,"x":0.07,"y":52,"y2":74.5},{"g":"u12","v":0.0028,"x":0.085,"y":53,"y2":73},{"g":"u12","v":0.0028,"x":0.093,"y":55,"y2":70},{"g":"u12","v":0.0028,"x":0.098,"y":58,"y2":67.5},{"g":"u12","v":0.0028,"x":0.1005,"y":61.5,"y2":65},
{"g":"u14","v":0.00365,"x":0.042,"y":54.5,"y2":71.5},{"g":"u14","v":0.00365,"x":0.05,"y":53.5,"y2":73},{"g":"u14","v":0.00365,"x":0.07,"y":53,"y2":73.5},{"g":"u14","v":0.00365,"x":0.085,"y":54,"y2":72},{"g":"u14","v":0.00365,"x":0.092,"y":56,"y2":69.5},{"g":"u14","v":0.00365,"x":0.097,"y":59,"y2":66.5},{"g":"u14","v":0.00365,"x":0.099,"y":62,"y2":64.5},
{"g":"u15","v":0.004,"x":0.045,"y":55,"y2":71},{"g":"u15","v":0.004,"x":0.05,"y":54,"y2":72},{"g":"u15","v":0.004,"x":0.07,"y":53.5,"y2":72.5},{"g":"u15","v":0.004,"x":0.085,"y":55,"y2":70.5},{"g":"u15","v":0.004,"x":0.09,"y":57,"y2":68.5},{"g":"u15","v":0.004,"x":0.095,"y":60,"y2":65.5},{"g":"u15","v":0.004,"x":0.0975,"y":62.5,"y2":64},
{"g":"u17","v":0.00452,"x":0.088,"y":59,"y2":67},{"g":"u17","v":0.00452,"x":0.092,"y":59.5,"y2":66},{"g":"u17","v":0.00452,"x":0.095,"y":61,"y2":64.5},{"g":"u17","v":0.00452,"x":0.0965,"y":62.5,"y2":63.5},
{"g":"u19","v":0.00505,"x":0.0915,"y":60.5,"y2":65},{"g":"u19","v":0.00505,"x":0.093,"y":60,"y2":65.5},{"g":"u19","v":0.00505,"x":0.095,"y":62,"y2":64},
{"g":"uc12","v":0.0028,"x":0.04,"y":55.5,"y2":70},{"g":"uc12","v":0.0028,"x":0.0637,"y":56,"y2":70},{"g":"uc12","v":0.0028,"x":0.08,"y":57.5,"y2":68.5},{"g":"uc12","v":0.0028,"x":0.09,"y":60,"y2":65.5},{"g":"uc12","v":0.0028,"x":0.094,"y":63,"y2":63.5},
{"g":"uc7","v":0.00133,"x":0.04,"y":56,"y2":69},{"g":"uc7","v":0.00133,"x":0.0637,"y":56.8,"y2":68.7},{"g":"uc7","v":0.00133,"x":0.08,"y":58.5,"y2":66.8},{"g":"uc7","v":0.00133,"x":0.09,"y":61,"y2":64.8},{"g":"uc7","v":0.00133,"x":0.092,"y":63,"y2":63.5},
{"g":"uc3","v":0.0005,"x":0.04,"y":56.5,"y2":68.7},{"g":"uc3","v":0.0005,"x":0.0637,"y":57.4,"y2":68.2},{"g":"uc3","v":0.0005,"x":0.08,"y":59.3,"y2":66.2},{"g":"uc3","v":0.0005,"x":0.089,"y":62,"y2":64.2},{"g":"uc3","v":0.0005,"x":0.091,"y":63,"y2":63.4},
{"g":"uc0","v":0.00004,"x":0.0382,"y":55.2,"y2":70},{"g":"uc0","v":0.00004,"x":0.04,"y":56.9,"y2":68.3},{"g":"uc0","v":0.00004,"x":0.0637,"y":57.9,"y2":67.8},{"g":"uc0","v":0.00004,"x":0.078,"y":60.3,"y2":65.8},{"g":"uc0","v":0.00004,"x":0.086,"y":62.4,"y2":64.3},{"g":"uc0","v":0.00004,"x":0.089,"y":63,"y2":63.5},
{"g":"d10","v":0.00215,"x":0.04,"y":27.5,"y2":46},{"g":"d10","v":0.00215,"x":0.05,"y":26,"y2":47},{"g":"d10","v":0.00215,"x":0.07,"y":26.5,"y2":47.5},{"g":"d10","v":0.00215,"x":0.09,"y":28,"y2":46.5},{"g":"d10","v":0.00215,"x":0.098,"y":30.5,"y2":44.5},{"g":"d10","v":0.00215,"x":0.102,"y":33.5,"y2":41.5},{"g":"d10","v":0.00215,"x":0.105,"y":36,"y2":39},
{"g":"d12","v":0.0028,"x":0.04,"y":28,"y2":46},{"g":"d12","v":0.0028,"x":0.05,"y":27,"y2":47},{"g":"d12","v":0.0028,"x":0.07,"y":27,"y2":47},{"g":"d12","v":0.0028,"x":0.08,"y":28,"y2":46.5},{"g":"d12","v":0.0028,"x":0.09,"y":30,"y2":44.5},{"g":"d12","v":0.0028,"x":0.096,"y":33,"y2":42},{"g":"d12","v":0.0028,"x":0.099,"y":36,"y2":39.5},
{"g":"d14","v":0.00365,"x":0.042,"y":29,"y2":45.5},{"g":"d14","v":0.00365,"x":0.05,"y":28,"y2":46.5},{"g":"d14","v":0.00365,"x":0.07,"y":27.5,"y2":46.5},{"g":"d14","v":0.00365,"x":0.08,"y":28.5,"y2":45.5},{"g":"d14","v":0.00365,"x":0.09,"y":31,"y2":43.5},{"g":"d14","v":0.00365,"x":0.095,"y":34,"y2":41},{"g":"d14","v":0.00365,"x":0.097,"y":36.5,"y2":39},
{"g":"d15","v":0.004,"x":0.045,"y":29,"y2":45},{"g":"d15","v":0.004,"x":0.05,"y":28.5,"y2":46},{"g":"d15","v":0.004,"x":0.07,"y":28,"y2":46},{"g":"d15","v":0.004,"x":0.08,"y":29.5,"y2":45},{"g":"d15","v":0.004,"x":0.088,"y":32,"y2":43},{"g":"d15","v":0.004,"x":0.0935,"y":35,"y2":40.5},{"g":"d15","v":0.004,"x":0.0954,"y":37,"y2":38.5},
{"g":"d17","v":0.00452,"x":0.085,"y":33,"y2":42},{"g":"d17","v":0.00452,"x":0.09,"y":34,"y2":41.5},{"g":"d17","v":0.00452,"x":0.094,"y":36,"y2":39.5},{"g":"d17","v":0.00452,"x":0.0954,"y":37.3,"y2":38.3},
{"g":"d19","v":0.00505,"x":0.0875,"y":35,"y2":41},{"g":"d19","v":0.00505,"x":0.09,"y":35,"y2":40.5},{"g":"d19","v":0.00505,"x":0.093,"y":36.5,"y2":39},
{"g":"dc12","v":0.0028,"x":0.04,"y":30.5,"y2":45},{"g":"dc12","v":0.0028,"x":0.0637,"y":31.5,"y2":44.5},{"g":"dc12","v":0.0028,"x":0.08,"y":33.5,"y2":42.5},{"g":"dc12","v":0.0028,"x":0.088,"y":36,"y2":39.5},{"g":"dc12","v":0.0028,"x":0.091,"y":37.8,"y2":38},
{"g":"dc7","v":0.00133,"x":0.04,"y":31,"y2":44.5},{"g":"dc7","v":0.00133,"x":0.0637,"y":32.2,"y2":43.7},{"g":"dc7","v":0.00133,"x":0.08,"y":34.5,"y2":41.7},{"g":"dc7","v":0.00133,"x":0.087,"y":36.8,"y2":39},{"g":"dc7","v":0.00133,"x":0.089,"y":37.8,"y2":38},
{"g":"dc3","v":0.0005,"x":0.04,"y":31.5,"y2":44},{"g":"dc3","v":0.0005,"x":0.0637,"y":32.8,"y2":43.2},{"g":"dc3","v":0.0005,"x":0.08,"y":35.2,"y2":41},{"g":"dc3","v":0.0005,"x":0.086,"y":37,"y2":38.8},{"g":"dc3","v":0.0005,"x":0.088,"y":37.8,"y2":38},
{"g":"dc0","v":0.00004,"x":0.0382,"y":30.3,"y2":44.8},{"g":"dc0","v":0.00004,"x":0.04,"y":32,"y2":43.8},{"g":"dc0","v":0.00004,"x":0.0637,"y":33.3,"y2":42.7},{"g":"dc0","v":0.00004,"x":0.078,"y":35.7,"y2":40.7},{"g":"dc0","v":0.00004,"x":0.084,"y":37.2,"y2":38.7},{"g":"dc0","v":0.00004,"x":0.086,"y":37.8,"y2":38}
]
},
"spacing":61,
"vconcat":[
{"hconcat":[
{"width":1299,"height":329,"layer":[
{"data":{"name":"a"},"mark":{"type":"area","interpolate":"monotone"},"encoding":{"x":{"field":"x","type":"quantitative","scale":{"domain":[0.03816,0.2405],"nice":false,"zero":false},"axis":{"values":[0.05,0.1,0.15,0.2],"format":".2f","tickSize":-17,"labelPadding":45,"title":"(a) Case 1","titleY":230,"titleX":645,"titleBaseline":"alphabetic"}},"y":{"field":"y","type":"quantitative","scale":{"domain":[-7.5,100],"nice":false,"zero":false},"axis":null},"y2":{"field":"y2"},"detail":{"field":"g"},"color":{"field":"v","type":"quantitative","legend":null,"scale":{"type":"threshold","domain":[0.00008,0.00025,0.00042,0.00058,0.00075,0.00085,0.00105,0.00122,0.00145,0.00175,0.002,0.0023,0.0026,0.003,0.0035,0.0038,0.00413,0.0044,0.00465,0.0049,0.0052],"range":["#0000ff","#0a20f4","#0438fa","#0058f8","#0078fa","#0a9cff","#08a8f0","#00c8ff","#00ffff","#00ffc8","#00fca0","#04f474","#04ec48","#00f400","#38ea00","#a4f200","#f2f600","#ffcc10","#ffa000","#ff6a00","#ff3300","#e81c10"]}}}},
{"data":{"name":"minor"},"mark":{"type":"rule","color":"#000","strokeWidth":3},"encoding":{"x":{"field":"x","type":"quantitative"},"y":{"datum":-7.5},"y2":{"datum":-3.6}}},
{"data":{"values":[{"t":"x"}]},"mark":{"type":"text","fontStyle":"italic"},"encoding":{"text":{"field":"t"},"x":{"datum":0.1312},"y":{"datum":-55.5}}},
{"data":{"values":[{"t":"/m"}]},"mark":{"type":"text"},"encoding":{"text":{"field":"t"},"x":{"datum":0.1361},"y":{"datum":-55.5}}}
]},
{"width":83,"height":329,"data":{"name":"bands"},"layer":[
{"mark":"rect","encoding":{"x":{"datum":0,"type":"quantitative","scale":{"domain":[0,1],"nice":false},"axis":null},"x2":{"datum":1},"y":{"field":"lo","type":"quantitative","scale":{"domain":[0,0.005602],"nice":false},"axis":{"orient":"right","values":[0,0.0011,0.0022,0.0033,0.0044,0.0055],"labelExpr":"datum.value==0?'0':format(datum.value,'.4f')","domain":false,"ticks":false,"labelPadding":26,"labelOverlap":false,"labelBound":false,"labelFlush":false,"title":null}},"y2":{"field":"hi"},"color":{"field":"v","type":"quantitative","legend":null,"scale":{"type":"threshold","domain":[0.00008,0.00025,0.00042,0.00058,0.00075,0.00085,0.00105,0.00122,0.00145,0.00175,0.002,0.0023,0.0026,0.003,0.0035,0.0038,0.00413,0.0044,0.00465,0.0049,0.0052],"range":["#0000ff","#0a20f4","#0438fa","#0058f8","#0078fa","#0a9cff","#08a8f0","#00c8ff","#00ffff","#00ffc8","#00fca0","#04f474","#04ec48","#00f400","#38ea00","#a4f200","#f2f600","#ffcc10","#ffa000","#ff6a00","#ff3300","#e81c10"]}}}},
{"data":{"name":"marks"},"mark":{"type":"rule","color":"#102030","strokeWidth":1.5},"encoding":{"y":{"field":"m","type":"quantitative"}}},
{"data":{"values":[{"t":"M"}]},"mark":{"type":"text","fontStyle":"italic"},"encoding":{"text":{"field":"t"},"x":{"datum":0.795},"y":{"datum":0.006488}}},
{"data":{"values":[{"t":"OH"}]},"mark":{"type":"text","fontSize":38},"encoding":{"text":{"field":"t"},"x":{"datum":1.494},"y":{"datum":0.00627}}}
]}
],"spacing":54},
{"vconcat":[
{"hconcat":[
{"width":1299,"height":329,"layer":[
{"data":{"name":"b"},"mark":{"type":"area","interpolate":"monotone"},"encoding":{"x":{"field":"x","type":"quantitative","scale":{"domain":[0.03816,0.2405],"nice":false,"zero":false},"axis":{"values":[0.05,0.1,0.15,0.2],"format":".2f","tickSize":-17,"labelPadding":33,"title":"(b) Case 2","titleY":226,"titleX":645,"titleBaseline":"alphabetic"}},"y":{"field":"y","type":"quantitative","scale":{"domain":[-7.5,100],"nice":false,"zero":false},"axis":null},"y2":{"field":"y2"},"detail":{"field":"g"},"color":{"field":"v","type":"quantitative","legend":null,"scale":{"type":"threshold","domain":[0.00008,0.00025,0.00042,0.00058,0.00075,0.00085,0.00105,0.00122,0.00145,0.00175,0.002,0.0023,0.0026,0.003,0.0035,0.0038,0.00413,0.0044,0.00465,0.0049,0.0052],"range":["#0000ff","#0a20f4","#0438fa","#0058f8","#0078fa","#0a9cff","#08a8f0","#00c8ff","#00ffff","#00ffc8","#00fca0","#04f474","#04ec48","#00f400","#38ea00","#a4f200","#f2f600","#ffcc10","#ffa000","#ff6a00","#ff3300","#e81c10"]}}}},
{"data":{"name":"minor"},"mark":{"type":"rule","color":"#000","strokeWidth":3},"encoding":{"x":{"field":"x","type":"quantitative"},"y":{"datum":-7.5},"y2":{"datum":-3.6}}},
{"data":{"values":[{"t":"x"}]},"mark":{"type":"text","fontStyle":"italic"},"encoding":{"text":{"field":"t"},"x":{"datum":0.1312},"y":{"datum":-55.5}}},
{"data":{"values":[{"t":"/m"}]},"mark":{"type":"text"},"encoding":{"text":{"field":"t"},"x":{"datum":0.1361},"y":{"datum":-55.5}}}
]},
{"width":83,"height":329,"data":{"name":"bands"},"layer":[
{"mark":"rect","encoding":{"x":{"datum":0,"type":"quantitative","scale":{"domain":[0,1],"nice":false},"axis":null},"x2":{"datum":1},"y":{"field":"lo","type":"quantitative","scale":{"domain":[0,0.005602],"nice":false},"axis":{"orient":"right","values":[0,0.0011,0.0022,0.0033,0.0044,0.0055],"labelExpr":"datum.value==0?'0':format(datum.value,'.4f')","domain":false,"ticks":false,"labelPadding":26,"labelOverlap":false,"labelBound":false,"labelFlush":false,"title":null}},"y2":{"field":"hi"},"color":{"field":"v","type":"quantitative","legend":null,"scale":{"type":"threshold","domain":[0.00008,0.00025,0.00042,0.00058,0.00075,0.00085,0.00105,0.00122,0.00145,0.00175,0.002,0.0023,0.0026,0.003,0.0035,0.0038,0.00413,0.0044,0.00465,0.0049,0.0052],"range":["#0000ff","#0a20f4","#0438fa","#0058f8","#0078fa","#0a9cff","#08a8f0","#00c8ff","#00ffff","#00ffc8","#00fca0","#04f474","#04ec48","#00f400","#38ea00","#a4f200","#f2f600","#ffcc10","#ffa000","#ff6a00","#ff3300","#e81c10"]}}}},
{"data":{"name":"marks"},"mark":{"type":"rule","color":"#102030","strokeWidth":1.5},"encoding":{"y":{"field":"m","type":"quantitative"}}},
{"data":{"values":[{"t":"M"}]},"mark":{"type":"text","fontStyle":"italic"},"encoding":{"text":{"field":"t"},"x":{"datum":0.795},"y":{"datum":0.006488}}},
{"data":{"values":[{"t":"OH"}]},"mark":{"type":"text","fontSize":38},"encoding":{"text":{"field":"t"},"x":{"datum":1.494},"y":{"datum":0.00627}}}
]}
],"spacing":54},
{"hconcat":[
{"width":1299,"height":329,"layer":[
{"data":{"name":"c"},"mark":{"type":"area","interpolate":"monotone"},"encoding":{"x":{"field":"x","type":"quantitative","scale":{"domain":[0.03816,0.2405],"nice":false,"zero":false},"axis":{"values":[0.05,0.1,0.15,0.2],"format":".2f","tickSize":-17,"labelPadding":33,"title":"(c) Case 3","titleY":230,"titleX":645,"titleBaseline":"alphabetic"}},"y":{"field":"y","type":"quantitative","scale":{"domain":[-7.5,100],"nice":false,"zero":false},"axis":null},"y2":{"field":"y2"},"detail":{"field":"g"},"color":{"field":"v","type":"quantitative","legend":null,"scale":{"type":"threshold","domain":[0.00008,0.00025,0.00042,0.00058,0.00075,0.00085,0.00105,0.00122,0.00145,0.00175,0.002,0.0023,0.0026,0.003,0.0035,0.0038,0.00413,0.0044,0.00465,0.0049,0.0052],"range":["#0000ff","#0a20f4","#0438fa","#0058f8","#0078fa","#0a9cff","#08a8f0","#00c8ff","#00ffff","#00ffc8","#00fca0","#04f474","#04ec48","#00f400","#38ea00","#a4f200","#f2f600","#ffcc10","#ffa000","#ff6a00","#ff3300","#e81c10"]}}}},
{"data":{"name":"minor"},"mark":{"type":"rule","color":"#000","strokeWidth":3},"encoding":{"x":{"field":"x","type":"quantitative"},"y":{"datum":-7.5},"y2":{"datum":-3.6}}},
{"data":{"values":[{"t":"x"}]},"mark":{"type":"text","fontStyle":"italic"},"encoding":{"text":{"field":"t"},"x":{"datum":0.1312},"y":{"datum":-55.5}}},
{"data":{"values":[{"t":"/m"}]},"mark":{"type":"text"},"encoding":{"text":{"field":"t"},"x":{"datum":0.1361},"y":{"datum":-55.5}}}
]},
{"width":83,"height":329,"data":{"name":"bands"},"layer":[
{"mark":"rect","encoding":{"x":{"datum":0,"type":"quantitative","scale":{"domain":[0,1],"nice":false},"axis":null},"x2":{"datum":1},"y":{"field":"lo","type":"quantitative","scale":{"domain":[0,0.005602],"nice":false},"axis":{"orient":"right","values":[0,0.0011,0.0022,0.0033,0.0044,0.0055],"labelExpr":"datum.value==0?'0':format(datum.value,'.4f')","domain":false,"ticks":false,"labelPadding":26,"labelOverlap":false,"labelBound":false,"labelFlush":false,"title":null}},"y2":{"field":"hi"},"color":{"field":"v","type":"quantitative","legend":null,"scale":{"type":"threshold","domain":[0.00008,0.00025,0.00042,0.00058,0.00075,0.00085,0.00105,0.00122,0.00145,0.00175,0.002,0.0023,0.0026,0.003,0.0035,0.0038,0.00413,0.0044,0.00465,0.0049,0.0052],"range":["#0000ff","#0a20f4","#0438fa","#0058f8","#0078fa","#0a9cff","#08a8f0","#00c8ff","#00ffff","#00ffc8","#00fca0","#04f474","#04ec48","#00f400","#38ea00","#a4f200","#f2f600","#ffcc10","#ffa000","#ff6a00","#ff3300","#e81c10"]}}}},
{"data":{"name":"marks"},"mark":{"type":"rule","color":"#102030","strokeWidth":1.5},"encoding":{"y":{"field":"m","type":"quantitative"}}},
{"data":{"values":[{"t":"M"}]},"mark":{"type":"text","fontStyle":"italic"},"encoding":{"text":{"field":"t"},"x":{"datum":0.795},"y":{"datum":0.006488}}},
{"data":{"values":[{"t":"OH"}]},"mark":{"type":"text","fontSize":38},"encoding":{"text":{"field":"t"},"x":{"datum":1.494},"y":{"datum":0.00627}}}
]}
],"spacing":54},
{"hconcat":[
{"width":1299,"height":329,"layer":[
{"data":{"name":"d"},"mark":{"type":"area","interpolate":"monotone"},"encoding":{"x":{"field":"x","type":"quantitative","scale":{"domain":[0.03816,0.2405],"nice":false,"zero":false},"axis":{"values":[0.05,0.1,0.15,0.2],"format":".2f","tickSize":-17,"labelPadding":33,"title":"(d) Case 4","titleY":230,"titleX":645,"titleBaseline":"alphabetic"}},"y":{"field":"y","type":"quantitative","scale":{"domain":[-7.5,100],"nice":false,"zero":false},"axis":null},"y2":{"field":"y2"},"detail":{"field":"g"},"color":{"field":"v","type":"quantitative","legend":null,"scale":{"type":"threshold","domain":[0.00008,0.00025,0.00042,0.00058,0.00075,0.00085,0.00105,0.00122,0.00145,0.00175,0.002,0.0023,0.0026,0.003,0.0035,0.0038,0.00413,0.0044,0.00465,0.0049,0.0052],"range":["#0000ff","#0a20f4","#0438fa","#0058f8","#0078fa","#0a9cff","#08a8f0","#00c8ff","#00ffff","#00ffc8","#00fca0","#04f474","#04ec48","#00f400","#38ea00","#a4f200","#f2f600","#ffcc10","#ffa000","#ff6a00","#ff3300","#e81c10"]}}}},
{"data":{"name":"minor"},"mark":{"type":"rule","color":"#000","strokeWidth":3},"encoding":{"x":{"field":"x","type":"quantitative"},"y":{"datum":-7.5},"y2":{"datum":-3.6}}},
{"data":{"values":[{"t":"x"}]},"mark":{"type":"text","fontStyle":"italic"},"encoding":{"text":{"field":"t"},"x":{"datum":0.1312},"y":{"datum":-55.5}}},
{"data":{"values":[{"t":"/m"}]},"mark":{"type":"text"},"encoding":{"text":{"field":"t"},"x":{"datum":0.1361},"y":{"datum":-55.5}}}
]},
{"width":83,"height":329,"data":{"name":"bands"},"layer":[
{"mark":"rect","encoding":{"x":{"datum":0,"type":"quantitative","scale":{"domain":[0,1],"nice":false},"axis":null},"x2":{"datum":1},"y":{"field":"lo","type":"quantitative","scale":{"domain":[0,0.005602],"nice":false},"axis":{"orient":"right","values":[0,0.0011,0.0022,0.0033,0.0044,0.0055],"labelExpr":"datum.value==0?'0':format(datum.value,'.4f')","domain":false,"ticks":false,"labelPadding":26,"labelOverlap":false,"labelBound":false,"labelFlush":false,"title":null}},"y2":{"field":"hi"},"color":{"field":"v","type":"quantitative","legend":null,"scale":{"type":"threshold","domain":[0.00008,0.00025,0.00042,0.00058,0.00075,0.00085,0.00105,0.00122,0.00145,0.00175,0.002,0.0023,0.0026,0.003,0.0035,0.0038,0.00413,0.0044,0.00465,0.0049,0.0052],"range":["#0000ff","#0a20f4","#0438fa","#0058f8","#0078fa","#0a9cff","#08a8f0","#00c8ff","#00ffff","#00ffc8","#00fca0","#04f474","#04ec48","#00f400","#38ea00","#a4f200","#f2f600","#ffcc10","#ffa000","#ff6a00","#ff3300","#e81c10"]}}}},
{"data":{"name":"marks"},"mark":{"type":"rule","color":"#102030","strokeWidth":1.5},"encoding":{"y":{"field":"m","type":"quantitative"}}},
{"data":{"values":[{"t":"M"}]},"mark":{"type":"text","fontStyle":"italic"},"encoding":{"text":{"field":"t"},"x":{"datum":0.795},"y":{"datum":0.006488}}},
{"data":{"values":[{"t":"OH"}]},"mark":{"type":"text","fontSize":38},"encoding":{"text":{"field":"t"},"x":{"datum":1.494},"y":{"datum":0.00627}}}
]}
],"spacing":54}
],"spacing":38},
{"hconcat":[
{"width":1299,"height":329,"layer":[
{"data":{"name":"e"},"mark":{"type":"area","interpolate":"monotone"},"encoding":{"x":{"field":"x","type":"quantitative","scale":{"domain":[0.03816,0.2405],"nice":false,"zero":false},"axis":{"values":[0.05,0.1,0.15,0.2],"format":".2f","tickSize":-17,"labelPadding":33,"title":"(e) Case 5","titleY":226,"titleX":645,"titleBaseline":"alphabetic"}},"y":{"field":"y","type":"quantitative","scale":{"domain":[-7.5,100],"nice":false,"zero":false},"axis":null},"y2":{"field":"y2"},"detail":{"field":"g"},"color":{"field":"v","type":"quantitative","legend":null,"scale":{"type":"threshold","domain":[0.00008,0.00025,0.00042,0.00058,0.00075,0.00085,0.00105,0.00122,0.00145,0.00175,0.002,0.0023,0.0026,0.003,0.0035,0.0038,0.00413,0.0044,0.00465,0.0049,0.0052],"range":["#0000ff","#0a20f4","#0438fa","#0058f8","#0078fa","#0a9cff","#08a8f0","#00c8ff","#00ffff","#00ffc8","#00fca0","#04f474","#04ec48","#00f400","#38ea00","#a4f200","#f2f600","#ffcc10","#ffa000","#ff6a00","#ff3300","#e81c10"]}}}},
{"data":{"name":"minor"},"mark":{"type":"rule","color":"#000","strokeWidth":3},"encoding":{"x":{"field":"x","type":"quantitative"},"y":{"datum":-7.5},"y2":{"datum":-3.6}}},
{"data":{"values":[{"t":"x"}]},"mark":{"type":"text","fontStyle":"italic"},"encoding":{"text":{"field":"t"},"x":{"datum":0.1312},"y":{"datum":-55.5}}},
{"data":{"values":[{"t":"/m"}]},"mark":{"type":"text"},"encoding":{"text":{"field":"t"},"x":{"datum":0.1361},"y":{"datum":-55.5}}}
]},
{"width":83,"height":329,"data":{"name":"bands"},"layer":[
{"mark":"rect","encoding":{"x":{"datum":0,"type":"quantitative","scale":{"domain":[0,1],"nice":false},"axis":null},"x2":{"datum":1},"y":{"field":"lo","type":"quantitative","scale":{"domain":[0,0.005602],"nice":false},"axis":{"orient":"right","values":[0,0.0011,0.0022,0.0033,0.0044,0.0055],"labelExpr":"datum.value==0?'0':format(datum.value,'.4f')","domain":false,"ticks":false,"labelPadding":26,"labelOverlap":false,"labelBound":false,"labelFlush":false,"title":null}},"y2":{"field":"hi"},"color":{"field":"v","type":"quantitative","legend":null,"scale":{"type":"threshold","domain":[0.00008,0.00025,0.00042,0.00058,0.00075,0.00085,0.00105,0.00122,0.00145,0.00175,0.002,0.0023,0.0026,0.003,0.0035,0.0038,0.00413,0.0044,0.00465,0.0049,0.0052],"range":["#0000ff","#0a20f4","#0438fa","#0058f8","#0078fa","#0a9cff","#08a8f0","#00c8ff","#00ffff","#00ffc8","#00fca0","#04f474","#04ec48","#00f400","#38ea00","#a4f200","#f2f600","#ffcc10","#ffa000","#ff6a00","#ff3300","#e81c10"]}}}},
{"data":{"name":"marks"},"mark":{"type":"rule","color":"#102030","strokeWidth":1.5},"encoding":{"y":{"field":"m","type":"quantitative"}}},
{"data":{"values":[{"t":"M"}]},"mark":{"type":"text","fontStyle":"italic"},"encoding":{"text":{"field":"t"},"x":{"datum":0.795},"y":{"datum":0.006488}}},
{"data":{"values":[{"t":"OH"}]},"mark":{"type":"text","fontSize":38},"encoding":{"text":{"field":"t"},"x":{"datum":1.494},"y":{"datum":0.00627}}}
]}
],"spacing":54}
]
}
